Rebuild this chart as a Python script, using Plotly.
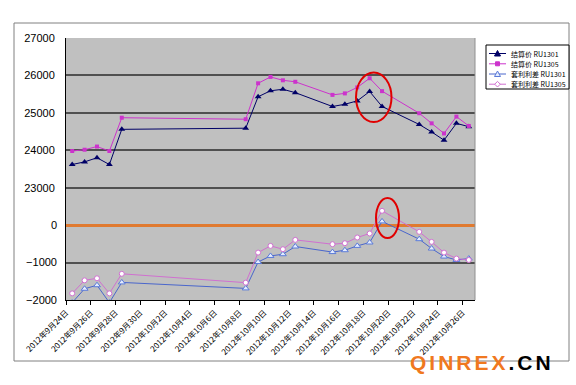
import plotly.graph_objects as go
import pandas as pd

# ---------------- data ----------------
dates = ["2012-09-24", "2012-09-25", "2012-09-26", "2012-09-27", "2012-09-28",
         "2012-10-08", "2012-10-09", "2012-10-10", "2012-10-11", "2012-10-12",
         "2012-10-15", "2012-10-16", "2012-10-17", "2012-10-18", "2012-10-19",
         "2012-10-22", "2012-10-23", "2012-10-24", "2012-10-25", "2012-10-26"]
settle_ru1301 = [23620, 23690, 23800, 23620, 24560, 24590, 25430, 25590, 25630, 25540,
                 25170, 25230, 25320, 25570, 25170, 24690, 24490, 24270, 24720, 24630]
settle_ru1305 = [23980, 24015, 24100, 23980, 24870, 24830, 25790, 25960, 25870, 25830,
                 25480, 25520, 25680, 25925, 25580, 24990, 24720, 24450, 24900, 24650]
spread_ru1301 = [-2070, -1700, -1605, -2070, -1530, -1690, -985, -823, -777, -571,
                 -720, -670, -554, -464, 100, -375, -625, -839, -930, -893]
spread_ru1305 = [-1823, -1475, -1420, -1823, -1300, -1537, -733, -554, -643, -394,
                 -509, -483, -330, -223, 383, -179, -447, -733, -893, -930]
series_names = ["结算价 RU1301", "结算价 RU1305", "套利利差 RU1301", "套利利差 RU1305"]
price_ticks = [23000, 24000, 25000, 26000, 27000]
spread_ticks = [-2000, -1000, 0]
tick_dates = pd.date_range("2012-09-24", "2012-10-26", freq="2D")
tick_labels = [f"{d.year}年{d.month}月{d.day}日" for d in tick_dates]

# ---------------- geometry helpers (pixels -> paper) ----------------
W, H = 576, 385
PL, PR, PT, PB = 66, 475, 38, 300
def px(x):
    return (x - PL) / (PR - PL)
def py(y):
    return (PB - y) / (PB - PT)

colors = ["#000066", "#cc33cc", "#4a66cc", "#d070d0"]
DAY = 86400000

fig = go.Figure()
fig.add_trace(go.Scatter(x=dates, y=settle_ru1301, name=series_names[0], mode="lines+markers",
                         xperiod=DAY, xperiodalignment="middle",
                         line=dict(color=colors[0], width=1),
                         marker=dict(symbol="triangle-up", size=6, color=colors[0])))
fig.add_trace(go.Scatter(x=dates, y=settle_ru1305, name=series_names[1], mode="lines+markers",
                         xperiod=DAY, xperiodalignment="middle",
                         line=dict(color=colors[1], width=1),
                         marker=dict(symbol="square", size=4, color=colors[1])))
fig.add_trace(go.Scatter(x=dates, y=spread_ru1301, name=series_names[2], mode="lines+markers",
                         xperiod=DAY, xperiodalignment="middle", yaxis="y2",
                         line=dict(color=colors[2], width=1),
                         marker=dict(symbol="triangle-up", size=6, color="#e4ecff",
                                     line=dict(color="#5a7ad8", width=1))))
fig.add_trace(go.Scatter(x=dates, y=spread_ru1305, name=series_names[3], mode="lines+markers",
                         xperiod=DAY, xperiodalignment="middle", yaxis="y2",
                         line=dict(color=colors[3], width=1),
                         marker=dict(symbol="circle", size=5, color="white",
                                     line=dict(color=colors[3], width=1))))

ytickfont = dict(family="Liberation Sans, Arial", size=11, color="black")
fig.update_layout(
    width=W, height=H,
    margin=dict(l=PL, r=W - PR, t=PT, b=H - PB),
    paper_bgcolor="white", plot_bgcolor="#c0c0c0",
    showlegend=False,
    xaxis=dict(type="date", range=["2012-09-24", "2012-10-27"],
               tickvals=tick_dates, ticktext=tick_labels, tickangle=-45,
               ticks="outside", ticklen=4, tickcolor="black",
               showline=True, linecolor="black", linewidth=1,
               showgrid=False, zeroline=False,
               tickfont=dict(family="Noto Sans CJK SC", size=8, color="black")),
    yaxis=dict(range=[20000, 27000], tickvals=price_ticks, tickformat="d",
               showgrid=True, gridcolor="#505050", gridwidth=1.5,
               zeroline=False, showline=True, linecolor="black", linewidth=1,
               ticks="", ticklabelstandoff=8, tickfont=ytickfont),
    yaxis2=dict(overlaying="y", side="left", range=[-2000, 5000], tickvals=spread_ticks,
                tickformat="d",
                showgrid=True, gridcolor="#505050", gridwidth=1.5,
                zeroline=True, zerolinecolor="#e07a30", zerolinewidth=2.5,
                showline=False, ticks="", ticklabelstandoff=8, tickfont=ytickfont),
)

shapes = []
# outer chart border
shapes.append(dict(type="rect", xref="paper", yref="paper",
                   x0=px(14), x1=px(569), y0=py(361), y1=py(23),
                   line=dict(color="#808080", width=1), layer="above"))
# right edge of plot area
shapes.append(dict(type="line", xref="paper", yref="paper", x0=1, x1=1, y0=0, y1=1,
                   line=dict(color="#909090", width=1)))
# red ellipses
shapes.append(dict(type="circle", xref="paper", yref="paper",
                   x0=px(356), x1=px(391.5), y0=py(122), y1=py(72.5),
                   line=dict(color="#e00000", width=2)))
shapes.append(dict(type="circle", xref="paper", yref="paper",
                   x0=px(376), x1=px(399), y0=py(238), y1=py(198),
                   line=dict(color="#e00000", width=2)))
# legend box
shapes.append(dict(type="rect", xref="paper", yref="paper",
                   x0=px(486), x1=px(569), y0=py(89), y1=py(45),
                   fillcolor="white", line=dict(color="black", width=1)))
rows = [53.5, 63.8, 74, 84.2]
marker_paths = [
    ("M-3,-2.5 L3,-2.5 L0,3 Z", colors[0], colors[0]),
    ("M-2,-2 L2,-2 L2,2 L-2,2 Z", colors[1], colors[1]),
    ("M-3,-2.5 L3,-2.5 L0,3 Z", "#e4ecff", "#5a7ad8"),
    ("M0,-2.8 L2.8,0 L0,2.8 L-2.8,0 Z", "white", colors[3]),
]
annotations = []
for i, yrow in enumerate(rows):
    shapes.append(dict(type="line", xref="paper", yref="paper",
                       x0=px(489), x1=px(506), y0=py(yrow), y1=py(yrow),
                       line=dict(color=colors[i], width=1)))
    path, fill, lc = marker_paths[i]
    shapes.append(dict(type="path", xref="paper", yref="paper",
                       xsizemode="pixel", ysizemode="pixel",
                       xanchor=px(497.5), yanchor=py(yrow), path=path,
                       fillcolor=fill, line=dict(color=lc, width=1)))
    annotations.append(dict(xref="paper", yref="paper", x=px(509), y=py(yrow),
                            xanchor="left", yanchor="middle", showarrow=False,
                            text=series_names[i],
                            font=dict(family="Noto Sans CJK SC", size=7, color="black")))

# watermark
annotations.append(dict(xref="paper", yref="paper", x=px(482), y=py(362),
                        xanchor="center", yanchor="middle", showarrow=False,
                        text="<b><span style='color:#f07820;letter-spacing:3px'>QINREX</span>"
                             "<span style='letter-spacing:3px'>.CN</span></b>",
                        font=dict(family="Liberation Sans, Arial", size=21, color="black")))

fig.update_layout(shapes=shapes, annotations=annotations)
fig.write_html("out.html", config={"displayModeBar": False},
               post_script="document.body.style.margin='0';")
